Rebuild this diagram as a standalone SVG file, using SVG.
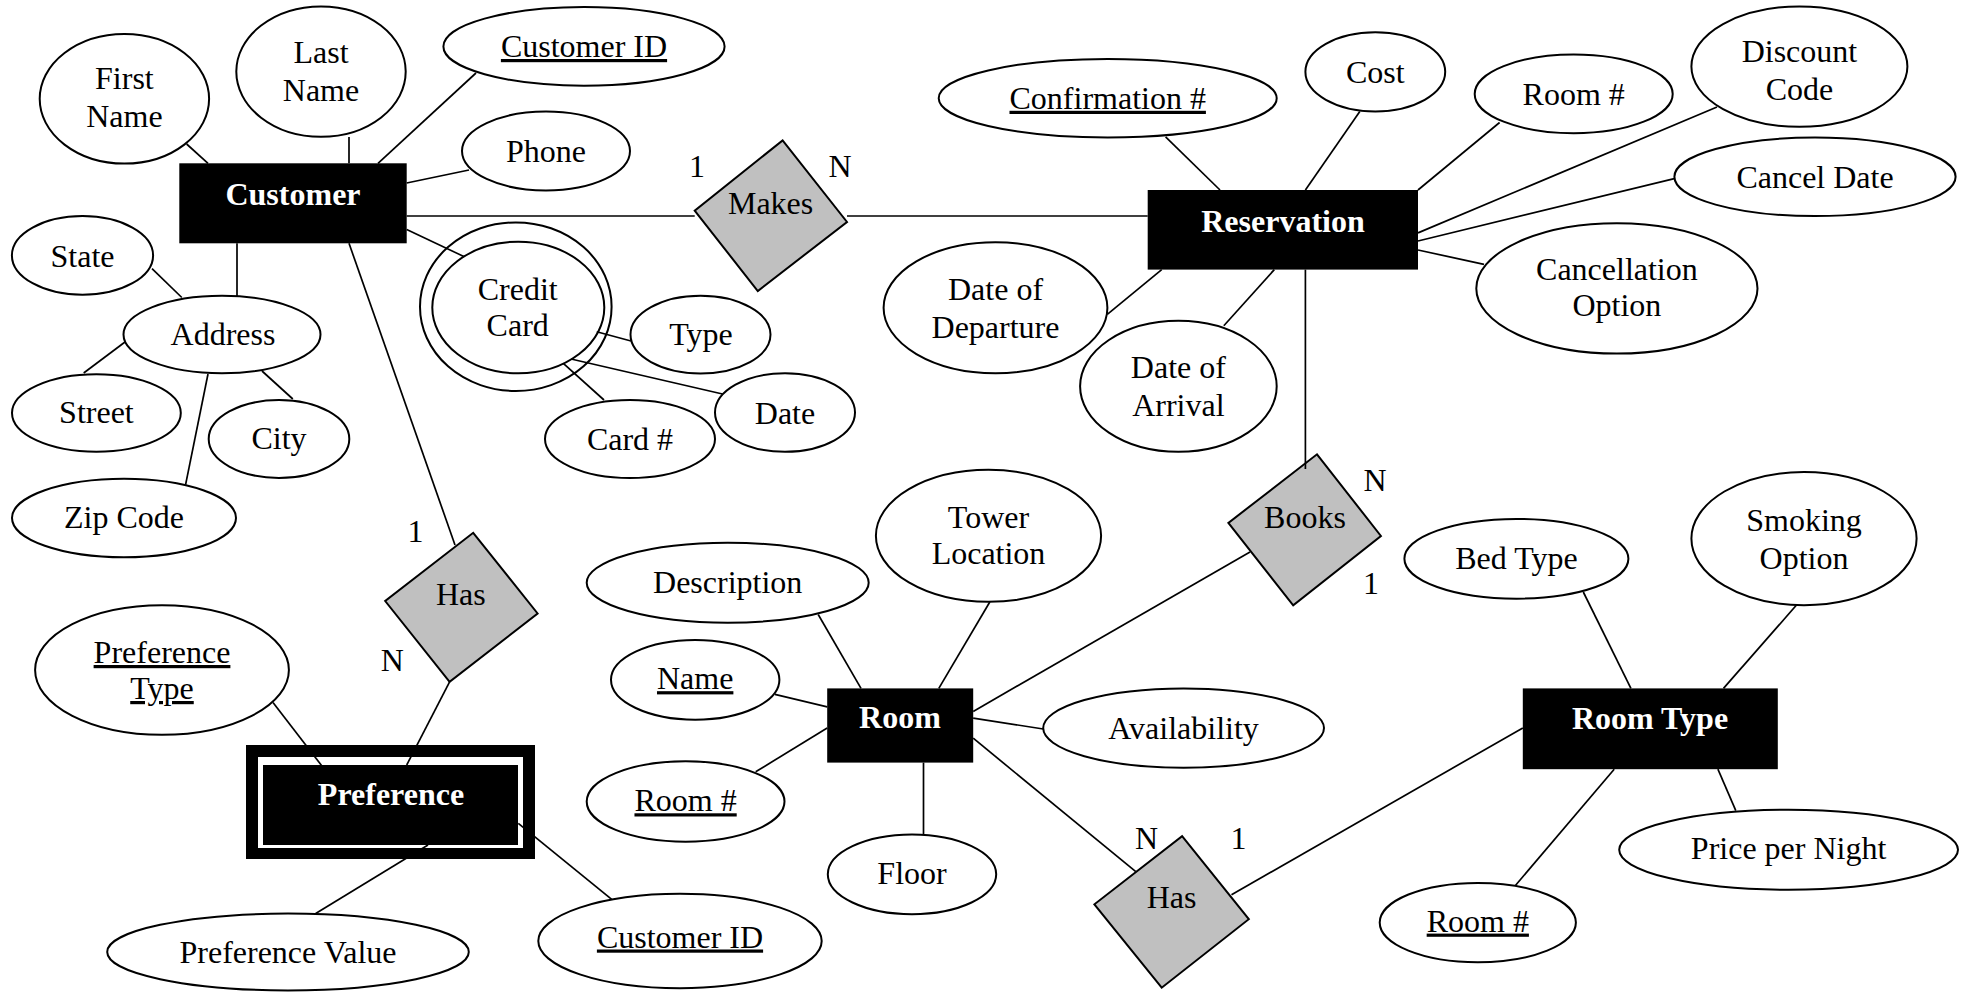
<svg xmlns="http://www.w3.org/2000/svg" width="1968" height="997" viewBox="0 0 1968 997">
<style>
.a{fill:#fff;stroke:#000;stroke-width:2}
.l{stroke:#000;stroke-width:1.7;fill:none}
.r{fill:#c0c0c0;stroke:#000;stroke-width:2}
.e{fill:#000}
text{font-family:"Liberation Serif","Times New Roman",serif;font-size:32px;text-anchor:middle;fill:#000}
.et{fill:#fff;font-weight:bold}
.u{text-decoration:underline}
</style>
<rect x="0" y="0" width="1968" height="997" fill="#fff"/>

<g id="customer"><rect class="e" x="179.3" y="163.3" width="227.4" height="80"/><text class="et" x="293" y="205">Customer</text></g>
<g id="reservation"><rect class="e" x="1147.7" y="190" width="270.3" height="79.6"/><text class="et" x="1283" y="231.5">Reservation</text></g>
<g id="room"><rect class="e" x="827.2" y="688.4" width="146" height="74.2"/><text class="et" x="900" y="728">Room</text></g>
<g id="roomtype"><rect class="e" x="1522.8" y="688.4" width="255" height="80.8"/><text class="et" x="1650" y="729">Room Type</text></g>
<g id="preference"><rect class="e" x="246" y="745" width="289" height="114"/><rect fill="#fff" x="258" y="757" width="265" height="91"/><rect class="e" x="263" y="765" width="255" height="80"/><text class="et" x="391" y="805">Preference</text></g>

<g id="makes"><polygon class="r" points="782.6,140.4 847,222 757.8,291 694.7,210.7"/><text x="770.6" y="214">Makes</text></g>
<g id="books"><polygon class="r" points="1317,454.3 1380.9,536 1293.2,605.3 1228.4,522.9"/><text x="1305" y="528">Books</text></g>
<g id="has-roomtype"><polygon class="r" points="1182.1,836.1 1248.8,919.2 1161.7,987.7 1094.4,904.3"/><text x="1171.6" y="907.6">Has</text></g>
<g id="has-pref"><polygon class="r" points="473.2,532.8 537.6,613.5 449.6,681.8 385.2,601"/><text x="460.8" y="604.6">Has</text></g>

<g id="first-name"><ellipse class="a" cx="124.4" cy="98.8" rx="84.7" ry="64.8"/><text x="124.4" y="89.2">First</text><text x="124.4" y="126.7">Name</text></g>
<g id="last-name"><ellipse class="a" cx="321" cy="71.6" rx="84.7" ry="65.2"/><text x="321" y="63.4">Last</text><text x="321" y="101">Name</text></g>
<g id="customer-id"><ellipse class="a" cx="584" cy="46.4" rx="140.6" ry="39.3"/><text class="u" x="584" y="57">Customer ID</text></g>
<g id="phone"><ellipse class="a" cx="546" cy="151" rx="84" ry="39.5"/><text x="546" y="162">Phone</text></g>
<g id="state"><ellipse class="a" cx="82.5" cy="255.4" rx="70.6" ry="39.3"/><text x="82.5" y="266.5">State</text></g>
<g id="address"><ellipse class="a" cx="222" cy="334.5" rx="98.5" ry="38.8"/><text x="223" y="344.5">Address</text></g>
<g id="street"><ellipse class="a" cx="96.4" cy="413" rx="84.4" ry="38.8"/><text x="96.4" y="423">Street</text></g>
<g id="city"><ellipse class="a" cx="279" cy="439" rx="70.3" ry="38.9"/><text x="279" y="449">City</text></g>
<g id="zip"><ellipse class="a" cx="124" cy="518" rx="112" ry="39.3"/><text x="124" y="527.7">Zip Code</text></g>
<g id="credit-card"><ellipse class="a" cx="515.8" cy="306.7" rx="95.8" ry="84.3"/><ellipse class="a" cx="518.3" cy="307.5" rx="86" ry="65.8"/><text x="517.7" y="299.6">Credit</text><text x="517.7" y="336">Card</text></g>
<g id="type"><ellipse class="a" cx="700.5" cy="334.6" rx="70" ry="38.8"/><text x="701" y="344.5">Type</text></g>
<g id="date"><ellipse class="a" cx="785" cy="412.5" rx="70" ry="39.3"/><text x="785" y="424">Date</text></g>
<g id="card-no"><ellipse class="a" cx="630" cy="439" rx="85" ry="39"/><text x="630" y="450">Card #</text></g>
<g id="confirmation"><ellipse class="a" cx="1107.7" cy="98.2" rx="169" ry="39.3"/><text class="u" x="1107.7" y="108.8">Confirmation #</text></g>
<g id="cost"><ellipse class="a" cx="1375.3" cy="71.8" rx="69.9" ry="39.6"/><text x="1375.3" y="83">Cost</text></g>
<g id="res-room-no"><ellipse class="a" cx="1573.7" cy="93.9" rx="99" ry="39.3"/><text x="1573.7" y="105">Room #</text></g>
<g id="discount"><ellipse class="a" cx="1799.4" cy="66.6" rx="108" ry="60.2"/><text x="1799.4" y="62.4">Discount</text><text x="1799.4" y="99.5">Code</text></g>
<g id="cancel-date"><ellipse class="a" cx="1815" cy="176.8" rx="140.6" ry="39.3"/><text x="1815" y="188">Cancel Date</text></g>
<g id="cancellation"><ellipse class="a" cx="1616.9" cy="288.4" rx="140.6" ry="65.2"/><text x="1616.9" y="280">Cancellation</text><text x="1616.9" y="316">Option</text></g>
<g id="departure"><ellipse class="a" cx="995.5" cy="307.7" rx="111.9" ry="65.5"/><text x="995.5" y="300">Date of</text><text x="995.5" y="338">Departure</text></g>
<g id="arrival"><ellipse class="a" cx="1178.4" cy="386.3" rx="98.3" ry="65.5"/><text x="1178.4" y="378.4">Date of</text><text x="1178.4" y="416">Arrival</text></g>
<g id="tower"><ellipse class="a" cx="988.5" cy="535.8" rx="112.6" ry="66"/><text x="988.5" y="528">Tower</text><text x="988.5" y="564">Location</text></g>
<g id="smoking"><ellipse class="a" cx="1804" cy="538.6" rx="112.6" ry="66.6"/><text x="1804" y="531">Smoking</text><text x="1804" y="569">Option</text></g>
<g id="bed-type"><ellipse class="a" cx="1516.4" cy="558.8" rx="112" ry="39.9"/><text x="1516.4" y="569">Bed Type</text></g>
<g id="availability"><ellipse class="a" cx="1183.6" cy="728.1" rx="140.4" ry="39.7"/><text x="1183.6" y="738.7">Availability</text></g>
<g id="price"><ellipse class="a" cx="1788.6" cy="849.8" rx="169.4" ry="40"/><text x="1788.6" y="859">Price per Night</text></g>
<g id="rt-room-no"><ellipse class="a" cx="1477.8" cy="922.6" rx="98.1" ry="39.7"/><text class="u" x="1477.8" y="931.6">Room #</text></g>
<g id="description"><ellipse class="a" cx="727.7" cy="582.7" rx="141" ry="40"/><text x="727.7" y="593">Description</text></g>
<g id="name"><ellipse class="a" cx="695.2" cy="679.8" rx="84.2" ry="39.9"/><text class="u" x="695.2" y="689.2">Name</text></g>
<g id="room-no"><ellipse class="a" cx="685.6" cy="801.5" rx="98.9" ry="40.2"/><text class="u" x="685.6" y="811.3">Room #</text></g>
<g id="floor"><ellipse class="a" cx="912" cy="874.3" rx="84.2" ry="39.9"/><text x="912" y="883.8">Floor</text></g>
<g id="pref-type"><ellipse class="a" cx="162" cy="670" rx="126.9" ry="64.8"/><text class="u" x="162" y="663">Preference</text><text class="u" x="162" y="699">Type</text></g>
<g id="pref-value"><ellipse class="a" cx="288" cy="952" rx="180.8" ry="38.4"/><text x="288" y="963">Preference Value</text></g>
<g id="pref-customer-id"><ellipse class="a" cx="680" cy="941" rx="141.7" ry="47.2"/><text class="u" x="680" y="947.5">Customer ID</text></g>

<g id="connectors">
<line class="l" x1="186.6" y1="144" x2="208" y2="163.3"/>
<line class="l" x1="349" y1="137" x2="349" y2="163.3"/>
<line class="l" x1="476" y1="73" x2="378" y2="163.3"/>
<line class="l" x1="469" y1="170" x2="406.7" y2="183"/>
<line class="l" x1="406.7" y1="216" x2="694.7" y2="216"/>
<line class="l" x1="406.7" y1="229.4" x2="464.3" y2="256.7"/>
<line class="l" x1="237" y1="243.3" x2="237" y2="296"/>
<line class="l" x1="349" y1="243.3" x2="455" y2="545"/>
<line class="l" x1="152" y1="268.6" x2="181.8" y2="297.5"/>
<line class="l" x1="125" y1="342" x2="83.7" y2="373"/>
<line class="l" x1="262" y1="371" x2="292.8" y2="399"/>
<line class="l" x1="208" y1="374" x2="185.6" y2="484.6"/>
<line class="l" x1="596.7" y1="331.7" x2="631" y2="341"/>
<line class="l" x1="571" y1="359" x2="722.5" y2="394"/>
<line class="l" x1="563.3" y1="363.3" x2="604" y2="400"/>
<line class="l" x1="847" y1="216" x2="1147.7" y2="216"/>
<line class="l" x1="1165.6" y1="136.8" x2="1220" y2="190"/>
<line class="l" x1="1359.8" y1="111.4" x2="1305.4" y2="190"/>
<line class="l" x1="1499.6" y1="122.5" x2="1418" y2="190"/>
<line class="l" x1="1717" y1="107" x2="1418" y2="232.9"/>
<line class="l" x1="1674.3" y1="178.6" x2="1418" y2="241"/>
<line class="l" x1="1484" y1="264.3" x2="1418" y2="250"/>
<line class="l" x1="1107.3" y1="314.3" x2="1161.7" y2="269.6"/>
<line class="l" x1="1223.8" y1="325.7" x2="1274.3" y2="269.6"/>
<line class="l" x1="1305.4" y1="269.6" x2="1305.4" y2="469"/>
<line class="l" x1="818.2" y1="614.5" x2="861" y2="688.4"/>
<line class="l" x1="989.8" y1="602" x2="938.8" y2="688.4"/>
<line class="l" x1="774.9" y1="694.3" x2="827.2" y2="706.8"/>
<line class="l" x1="755.7" y1="771.8" x2="827.2" y2="728"/>
<line class="l" x1="923.5" y1="762.6" x2="923.5" y2="834.4"/>
<line class="l" x1="973.2" y1="711.4" x2="1250" y2="551.9"/>
<line class="l" x1="973.2" y1="718.1" x2="1043.2" y2="729"/>
<line class="l" x1="973.2" y1="738.2" x2="1135.8" y2="871.7"/>
<line class="l" x1="1231.5" y1="894.8" x2="1522.8" y2="727.9"/>
<line class="l" x1="1583.3" y1="592" x2="1630.9" y2="688.4"/>
<line class="l" x1="1796.3" y1="605.3" x2="1723.5" y2="688.4"/>
<line class="l" x1="1614.2" y1="769.2" x2="1515.4" y2="885.5"/>
<line class="l" x1="1717.9" y1="769.2" x2="1735.8" y2="810.7"/>
<line class="l" x1="273" y1="702.6" x2="321.7" y2="765.7"/>
<line class="l" x1="449.6" y1="681.8" x2="406.7" y2="765"/>
<line class="l" x1="315.7" y1="913.6" x2="428" y2="845"/>
<line class="l" x1="611.7" y1="899.3" x2="518.3" y2="823.3"/>
</g>

<g id="cardinalities">
<text x="697" y="177">1</text>
<text x="840" y="177">N</text>
<text x="1375" y="491">N</text>
<text x="1371" y="593.7">1</text>
<text x="1146.6" y="848.6">N</text>
<text x="1238.4" y="848.6">1</text>
<text x="415.5" y="542">1</text>
<text x="392.2" y="671">N</text>
</g>
</svg>
